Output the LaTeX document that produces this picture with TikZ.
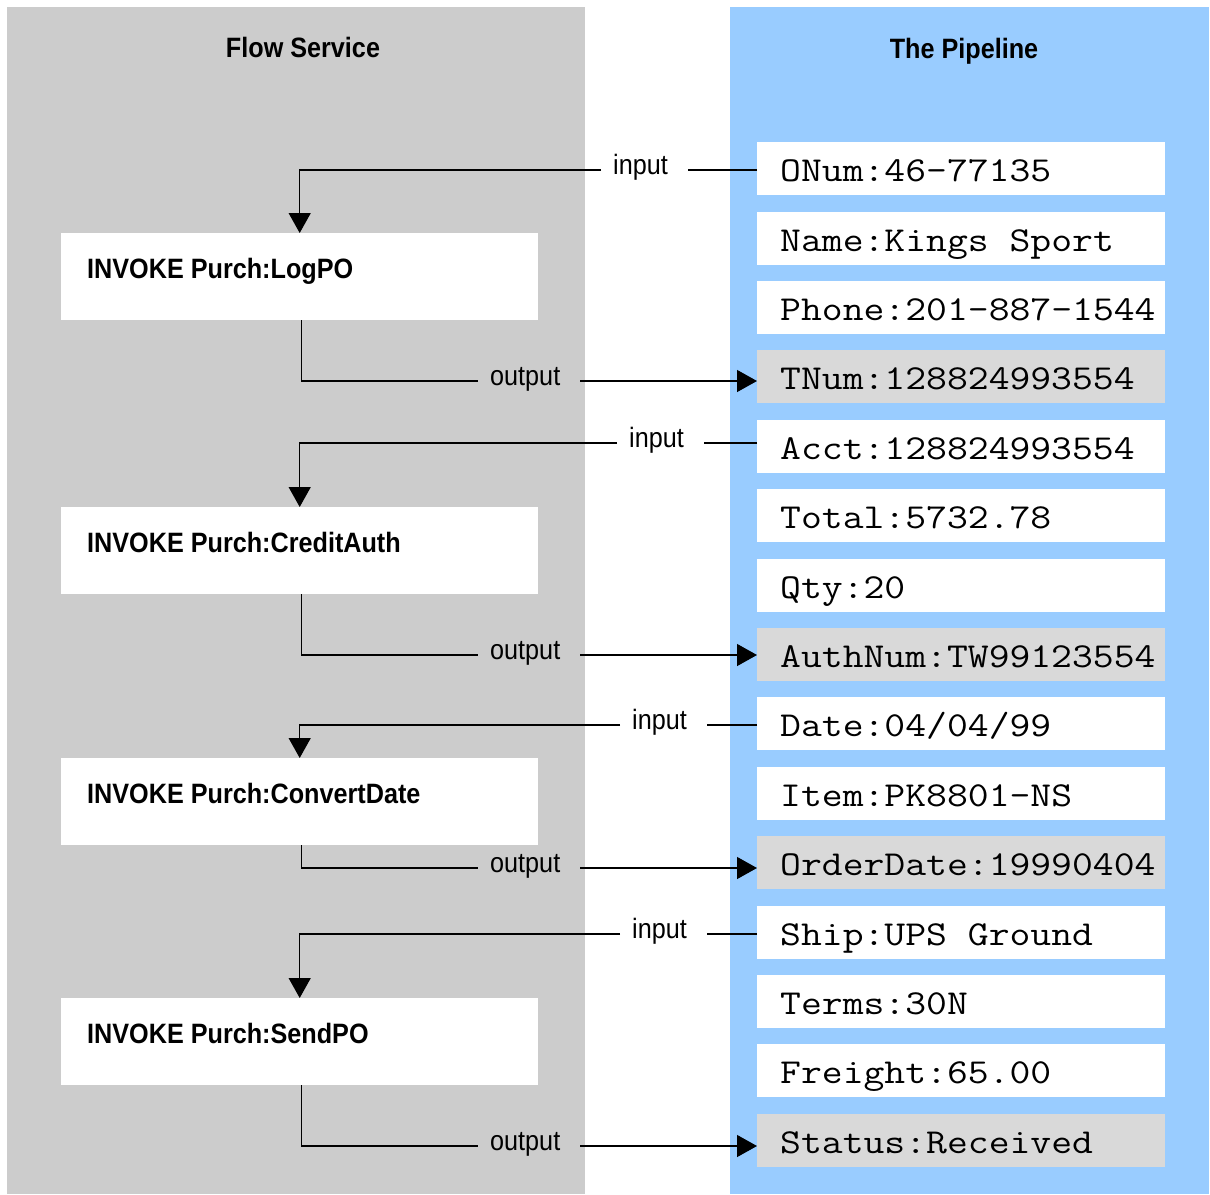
\documentclass[tikz,border=0pt]{standalone}
\usepackage{fontspec}
\setmainfont{Liberation Sans}
\newfontfamily\lsans[FakeStretch=0.9]{Liberation Sans}
\newfontfamily\lmono[FakeStretch=1.157]{Latin Modern Mono}
\usetikzlibrary{arrows.meta}
\definecolor{panelgray}{HTML}{CCCCCC}
\definecolor{panelblue}{HTML}{99CCFF}
\definecolor{boxgray}{HTML}{D9D9D9}
\newcommand\pipetxt[1]{\makebox[362pt][l]{#1}}
\begin{document}
\begin{tikzpicture}[x=1pt,y=-1pt,
  title/.style={font=\lsans\bfseries\fontsize{28}{32}\selectfont, anchor=base, inner sep=0},
  flowbox/.style={fill=white, anchor=north west, minimum width=477pt, minimum height=87pt, inner sep=0},
  flowtext/.style={font=\lsans\bfseries\fontsize{28}{32}\selectfont, anchor=base west, inner sep=0, xshift=26pt, yshift=-45pt},
  pipebox/.style={fill=white, anchor=north west, minimum width=408pt, minimum height=53pt, inner xsep=23pt, inner ysep=0, text height=30pt, text depth=4pt, font=\lmono\fontsize{35}{38}\selectfont},
  outbox/.style={pipebox, fill=boxgray},
  lab/.style={font=\lsans\fontsize{28}{32}\selectfont, anchor=west, inner xsep=12pt, inner ysep=0, text height=14pt, text depth=5pt, execute at end node={\kern8pt}},
  conn/.style={line width=1.3pt, draw=black},
  arr/.style={conn, -{Triangle[length=20pt,width=22pt]}}
]
\useasboundingbox (0,0) rectangle (1210,1194);
% panels
\fill[panelgray] (7,7) rectangle (585,1194);
\fill[panelblue] (730,7) rectangle (1209,1194);
% titles
\node[title] (tflow) at (303,57) {Flow Service};
\node[title] (tpipe) at (964,58) {The Pipeline};
% flow service boxes
\node[flowbox, label={[flowtext]north west:{INVOKE Purch:LogPO}}] (b1) at (61,233) {};
\node[flowbox, label={[flowtext]north west:{INVOKE Purch:CreditAuth}}] (b2) at (61,507) {};
\node[flowbox, label={[flowtext]north west:{INVOKE Purch:ConvertDate}}] (b3) at (61,758) {};
\node[flowbox, label={[flowtext]north west:{INVOKE Purch:SendPO}}] (b4) at (61,998) {};
% pipeline boxes
\node[pipebox] (p1)  at (757,142.0)  {\pipetxt{ONum:46-77135}};
\node[pipebox] (p2)  at (757,211.4)  {\pipetxt{Name:Kings Sport}};
\node[pipebox] (p3)  at (757,280.8)  {\pipetxt{Phone:201-887-1544}};
\node[outbox]  (p4)  at (757,350.2)  {\pipetxt{TNum:128824993554}};
\node[pipebox] (p5)  at (757,419.6)  {\pipetxt{Acct:128824993554}};
\node[pipebox] (p6)  at (757,489.0)  {\pipetxt{Total:5732.78}};
\node[pipebox] (p7)  at (757,558.4)  {\pipetxt{Qty:20}};
\node[outbox]  (p8)  at (757,627.8)  {\pipetxt{AuthNum:TW99123554}};
\node[pipebox] (p9)  at (757,697.2)  {\pipetxt{Date:04/04/99}};
\node[pipebox] (p10) at (757,766.6)  {\pipetxt{Item:PK8801-NS}};
\node[outbox]  (p11) at (757,836.0)  {\pipetxt{OrderDate:19990404}};
\node[pipebox] (p12) at (757,905.4)  {\pipetxt{Ship:UPS Ground}};
\node[pipebox] (p13) at (757,974.8)  {\pipetxt{Terms:30N}};
\node[pipebox] (p14) at (757,1044.2) {\pipetxt{Freight:65.00}};
\node[outbox]  (p15) at (757,1113.6) {\pipetxt{Status:Received}};
% input / output labels
\node[lab] (i1) at (601,170) {input};
\node[lab] (o1) at (478,381) {output};
\node[lab] (i2) at (617,443) {input};
\node[lab] (o2) at (478,655) {output};
\node[lab] (i3) at (620,725) {input};
\node[lab] (o3) at (478,868) {output};
\node[lab] (i4) at (620,934) {input};
\node[lab] (o4) at (478,1146) {output};
% connectors
\draw[conn] (p1.west |- i1.east) -- (i1.east);
\draw[arr] (i1.west) -| (b1.north);
\draw[conn] ([xshift=2pt]b1.south) |- (o1.west);
\draw[arr] (o1.east) -- (o1.east -| p4.west);

\draw[conn] (p5.west |- i2.east) -- (i2.east);
\draw[arr] (i2.west) -| (b2.north);
\draw[conn] ([xshift=2pt]b2.south) |- (o2.west);
\draw[arr] (o2.east) -- (o2.east -| p8.west);

\draw[conn] (p9.west |- i3.east) -- (i3.east);
\draw[arr] (i3.west) -| (b3.north);
\draw[conn] ([xshift=2pt]b3.south) |- (o3.west);
\draw[arr] (o3.east) -- (o3.east -| p11.west);

\draw[conn] (p12.west |- i4.east) -- (i4.east);
\draw[arr] (i4.west) -| (b4.north);
\draw[conn] ([xshift=2pt]b4.south) |- (o4.west);
\draw[arr] (o4.east) -- (o4.east -| p15.west);
\end{tikzpicture}
\end{document}
